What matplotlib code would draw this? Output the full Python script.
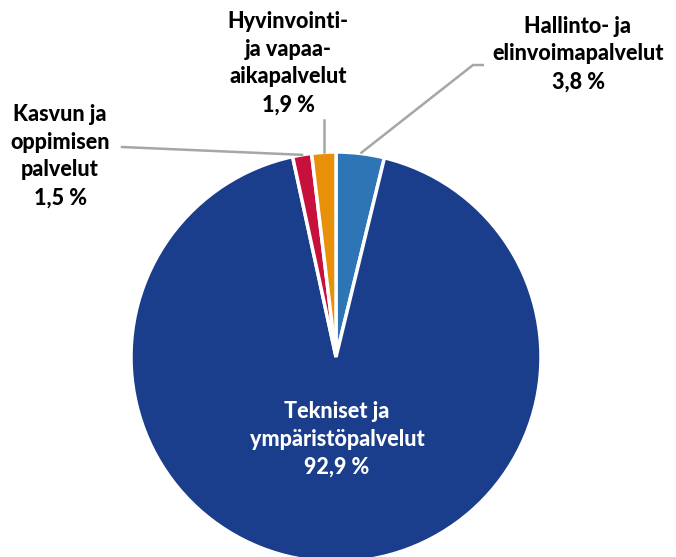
import matplotlib.pyplot as plt
import numpy as np

labels = ['Hallinto- ja\nelinvoimapalvelut', 'Tekniset ja\nympäristöpalvelut',
          'Kasvun ja\noppimisen\npalvelut', 'Hyvinvointi-\nja vapaa-\naikapalvelut']
values = [3.8, 92.9, 1.5, 1.9]
pct_text = ['3,8 %', '92,9 %', '1,5 %', '1,9 %']
colors = ['#2E75B6', '#1A3D8C', '#C8103C', '#E8900A']

plt.rcParams['font.family'] = ['Lato', 'DejaVu Sans']

fig = plt.figure(figsize=(6.76, 5.57), dpi=100)
ax = fig.add_axes([0, 0, 1, 1])

cx, cy, r = 336, 200, 205
wedges, _ = ax.pie(values, colors=colors, startangle=90, counterclock=False,
                   center=(cx, cy), radius=r, frame=True,
                   wedgeprops=dict(edgecolor='white', linewidth=2.5))
ax.set_xlim(0, 676)
ax.set_ylim(0, 557)
ax.set_aspect('equal')
ax.axis('off')

font = dict(fontsize=15.5, fontweight='black', ha='center', va='center', linespacing=1.4)

# label positions (pixel coords from top)
pos = [(578, 54), (337, 439), (60, 156), (288, 63)]
for i, (x, y) in enumerate(pos):
    col = 'white' if i == 1 else 'black'
    ax.text(x, 557 - y, labels[i] + '\n' + pct_text[i], color=col, **font)


def edge_point(w, frac):
    ang = np.deg2rad(w.theta1 + (w.theta2 - w.theta1) * frac)
    return cx + r * np.cos(ang), cy + r * np.sin(ang)


lc = '#A6A6A6'
# Hallinto leader
x0, y0 = edge_point(wedges[0], 0.5)
ax.plot([x0, 473, 484], [y0, 557 - 65, 557 - 65], color=lc, lw=1.8, solid_capstyle='butt')
# Kasvun leader
x0, y0 = edge_point(wedges[2], 0.5)
ax.plot([x0, 122], [y0, 557 - 147], color=lc, lw=1.8)
# Hyvinvointi leader
x0, y0 = edge_point(wedges[3], 0.5)
ax.plot([x0, x0], [y0, 557 - 120], color=lc, lw=1.8)

fig.savefig('out.png', dpi=100)
